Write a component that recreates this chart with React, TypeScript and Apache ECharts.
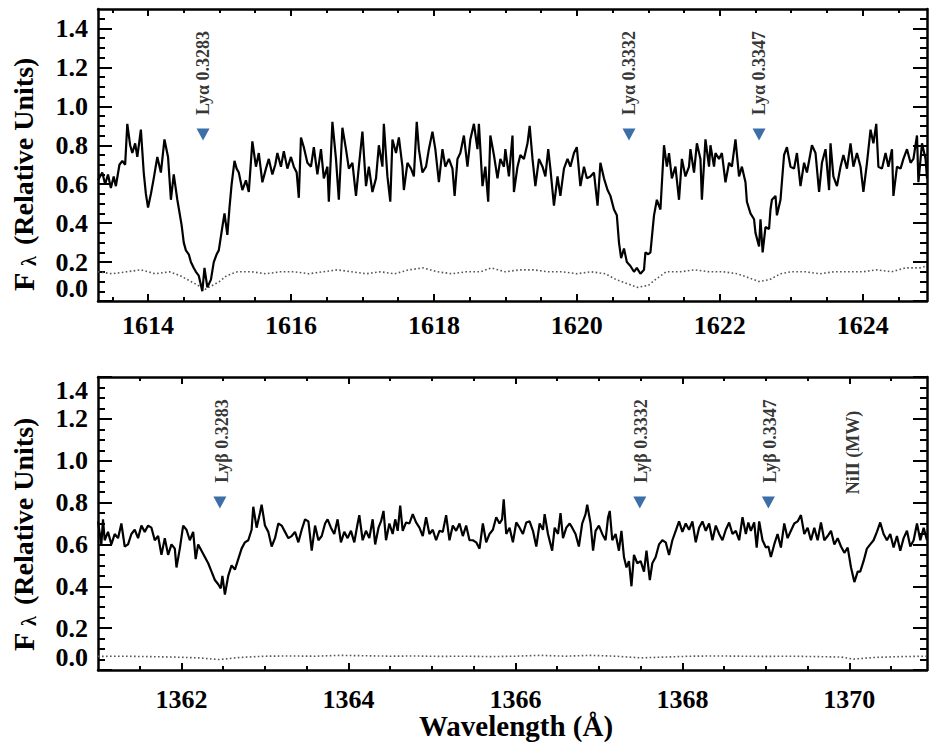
import React, { useEffect, useRef } from 'react';
import * as echarts from 'echarts';

// ---------- Top panel (Lyα) ----------
const topWave = [
  1613.30, 1613.36, 1613.40, 1613.44, 1613.48, 1613.52, 1613.55, 1613.60, 1613.64, 1613.68,
  1613.71, 1613.75, 1613.78, 1613.82, 1613.85, 1613.90, 1613.94, 1613.97, 1614.00, 1614.04,
  1614.08, 1614.13, 1614.18, 1614.23, 1614.28, 1614.32, 1614.36, 1614.41, 1614.47, 1614.50,
  1614.53, 1614.57, 1614.60, 1614.64, 1614.67, 1614.71, 1614.76, 1614.79, 1614.83, 1614.88,
  1614.92, 1614.96, 1614.99, 1615.04, 1615.07, 1615.11, 1615.14, 1615.17, 1615.21, 1615.24,
  1615.27, 1615.32, 1615.37, 1615.41, 1615.46, 1615.51, 1615.55, 1615.60, 1615.65, 1615.69,
  1615.74, 1615.78, 1615.81, 1615.86, 1615.90, 1615.95, 1616.00, 1616.04, 1616.08, 1616.11,
  1616.14, 1616.18, 1616.23, 1616.28, 1616.32, 1616.37, 1616.42, 1616.46, 1616.51, 1616.53,
  1616.58, 1616.63, 1616.67, 1616.72, 1616.77, 1616.81, 1616.86, 1616.91, 1616.95, 1617.00,
  1617.05, 1617.09, 1617.14, 1617.19, 1617.23, 1617.28, 1617.30, 1617.35, 1617.39, 1617.42,
  1617.47, 1617.51, 1617.56, 1617.58, 1617.63, 1617.68, 1617.72, 1617.76, 1617.79, 1617.84,
  1617.89, 1617.93, 1617.98, 1618.02, 1618.07, 1618.12, 1618.16, 1618.21, 1618.26, 1618.29,
  1618.33, 1618.37, 1618.42, 1618.47, 1618.51, 1618.56, 1618.61, 1618.63, 1618.68, 1618.72,
  1618.76, 1618.79, 1618.84, 1618.89, 1618.93, 1618.98, 1619.00, 1619.05, 1619.10, 1619.12,
  1619.17, 1619.21, 1619.26, 1619.31, 1619.34, 1619.38, 1619.42, 1619.47, 1619.52, 1619.56,
  1619.60, 1619.63, 1619.68, 1619.73, 1619.77, 1619.82, 1619.87, 1619.91, 1619.96, 1620.00,
  1620.05, 1620.10, 1620.14, 1620.19, 1620.24, 1620.29, 1620.33, 1620.38, 1620.43, 1620.47,
  1620.52, 1620.56, 1620.59, 1620.62, 1620.66, 1620.70, 1620.75, 1620.80, 1620.84, 1620.89,
  1620.94, 1620.96, 1621.00, 1621.03, 1621.08, 1621.12, 1621.17, 1621.22, 1621.26, 1621.29,
  1621.33, 1621.38, 1621.43, 1621.47, 1621.52, 1621.57, 1621.59, 1621.64, 1621.68, 1621.73,
  1621.75, 1621.80, 1621.85, 1621.87, 1621.92, 1621.94, 1621.99, 1622.03, 1622.08, 1622.13,
  1622.17, 1622.22, 1622.27, 1622.31, 1622.36, 1622.38, 1622.43, 1622.48, 1622.50, 1622.55,
  1622.57, 1622.60, 1622.64, 1622.69, 1622.71, 1622.73, 1622.78, 1622.80, 1622.85, 1622.90,
  1622.94, 1622.99, 1623.04, 1623.08, 1623.13, 1623.18, 1623.22, 1623.29, 1623.34, 1623.39,
  1623.43, 1623.48, 1623.53, 1623.55, 1623.59, 1623.64, 1623.69, 1623.73, 1623.78, 1623.83,
  1623.87, 1623.92, 1623.97, 1624.01, 1624.06, 1624.11, 1624.15, 1624.19, 1624.22, 1624.27,
  1624.32, 1624.36, 1624.41, 1624.43, 1624.48, 1624.53, 1624.57, 1624.62, 1624.67, 1624.71,
  1624.76, 1624.78, 1624.83, 1624.88, 1624.90,
];
const topFlux = [
  0.62, 0.66, 0.60, 0.65, 0.58, 0.64, 0.59, 0.70, 0.72, 0.70,
  0.91, 0.80, 0.76, 0.81, 0.74, 0.88, 0.66, 0.55, 0.48, 0.55,
  0.63, 0.74, 0.66, 0.83, 0.74, 0.52, 0.65, 0.52, 0.39, 0.30,
  0.26, 0.24, 0.20, 0.17, 0.15, 0.13, 0.05, 0.17, 0.07, 0.11,
  0.20, 0.24, 0.26, 0.38, 0.45, 0.34, 0.48, 0.60, 0.72, 0.68,
  0.66, 0.57, 0.62, 0.56, 0.82, 0.69, 0.76, 0.61, 0.68, 0.73,
  0.65, 0.70, 0.76, 0.69, 0.77, 0.68, 0.74, 0.69, 0.66, 0.53,
  0.84, 0.79, 0.71, 0.69, 0.79, 0.65, 0.78, 0.63, 0.69, 0.51,
  0.92, 0.73, 0.52, 0.89, 0.78, 0.68, 0.71, 0.54, 0.69, 0.87,
  0.59, 0.69, 0.56, 0.63, 0.80, 0.69, 0.91, 0.64, 0.51, 0.83,
  0.76, 0.84, 0.69, 0.57, 0.71, 0.68, 0.64, 0.92, 0.78, 0.66,
  0.69, 0.78, 0.87, 0.78, 0.61, 0.78, 0.69, 0.73, 0.68, 0.54,
  0.73, 0.76, 0.85, 0.69, 0.83, 0.91, 0.78, 0.91, 0.59, 0.69,
  0.51, 0.85, 0.75, 0.63, 0.73, 0.69, 0.78, 0.64, 0.85, 0.56,
  0.69, 0.75, 0.73, 0.81, 0.90, 0.73, 0.59, 0.73, 0.69, 0.64,
  0.78, 0.68, 0.49, 0.64, 0.54, 0.68, 0.73, 0.69, 0.76, 0.79,
  0.59, 0.69, 0.63, 0.64, 0.66, 0.49, 0.71, 0.63, 0.57, 0.54,
  0.47, 0.44, 0.30, 0.22, 0.27, 0.20, 0.18, 0.15, 0.17, 0.14,
  0.16, 0.25, 0.24, 0.25, 0.44, 0.52, 0.47, 0.80, 0.69, 0.76,
  0.63, 0.69, 0.52, 0.73, 0.64, 0.69, 0.78, 0.66, 0.81, 0.73,
  0.52, 0.83, 0.69, 0.80, 0.69, 0.76, 0.73, 0.76, 0.61, 0.71,
  0.69, 0.83, 0.64, 0.69, 0.61, 0.51, 0.45, 0.42, 0.35, 0.28,
  0.42, 0.25, 0.38, 0.37, 0.47, 0.52, 0.54, 0.44, 0.52, 0.75,
  0.79, 0.69, 0.68, 0.76, 0.59, 0.71, 0.66, 0.80, 0.76, 0.56,
  0.71, 0.78, 0.57, 0.81, 0.64, 0.59, 0.69, 0.75, 0.68, 0.81,
  0.69, 0.76, 0.69, 0.56, 0.71, 0.88, 0.81, 0.91, 0.69, 0.68,
  0.76, 0.69, 0.78, 0.54, 0.69, 0.68, 0.73, 0.78, 0.71, 0.73,
  0.85, 0.61, 0.81, 0.73, 0.63,
];
const topErrWave = [
  1613.3, 1613.5, 1613.7, 1613.9, 1614.1, 1614.3, 1614.45, 1614.6, 1614.7, 1614.8,
  1614.9, 1615.0, 1615.1, 1615.25, 1615.45, 1615.65, 1615.85, 1616.05, 1616.25, 1616.45,
  1616.65, 1616.85, 1617.05, 1617.25, 1617.45, 1617.65, 1617.85, 1618.05, 1618.25, 1618.45,
  1618.65, 1618.8, 1619.0, 1619.2, 1619.4, 1619.6, 1619.8, 1620.0, 1620.2, 1620.4,
  1620.55, 1620.7, 1620.85, 1621.0, 1621.1, 1621.25, 1621.45, 1621.65, 1621.85, 1622.05,
  1622.25, 1622.4, 1622.55, 1622.7, 1622.85, 1623.0, 1623.2, 1623.4, 1623.6, 1623.8,
  1624.0, 1624.2, 1624.4, 1624.6, 1624.8, 1624.9,
];
const topErr = [
  0.15, 0.14, 0.15, 0.16, 0.14, 0.15, 0.13, 0.10, 0.08, 0.06,
  0.08, 0.10, 0.13, 0.15, 0.15, 0.14, 0.15, 0.15, 0.14, 0.15,
  0.16, 0.15, 0.14, 0.15, 0.14, 0.16, 0.17, 0.15, 0.14, 0.15,
  0.15, 0.17, 0.15, 0.16, 0.16, 0.15, 0.15, 0.14, 0.15, 0.14,
  0.11, 0.09, 0.07, 0.08, 0.11, 0.15, 0.15, 0.16, 0.15, 0.15,
  0.14, 0.12, 0.10, 0.11, 0.14, 0.15, 0.15, 0.14, 0.15, 0.15,
  0.15, 0.16, 0.15, 0.17, 0.17, 0.18,
];

// ---------- Bottom panel (Lyβ) ----------
const botWave = [
  1361.00, 1361.04, 1361.06, 1361.08, 1361.12, 1361.16, 1361.20, 1361.24, 1361.28, 1361.32,
  1361.36, 1361.40, 1361.44, 1361.48, 1361.52, 1361.56, 1361.60, 1361.64, 1361.68, 1361.72,
  1361.76, 1361.80, 1361.84, 1361.88, 1361.92, 1361.94, 1361.98, 1362.02, 1362.06, 1362.10,
  1362.14, 1362.17, 1362.20, 1362.24, 1362.28, 1362.32, 1362.36, 1362.40, 1362.44, 1362.47,
  1362.49, 1362.52, 1362.56, 1362.60, 1362.64, 1362.68, 1362.72, 1362.76, 1362.80, 1362.84,
  1362.86, 1362.90, 1362.94, 1362.96, 1363.00, 1363.04, 1363.08, 1363.12, 1363.16, 1363.20,
  1363.24, 1363.28, 1363.32, 1363.36, 1363.40, 1363.44, 1363.48, 1363.52, 1363.56, 1363.60,
  1363.64, 1363.68, 1363.72, 1363.75, 1363.79, 1363.83, 1363.87, 1363.91, 1363.95, 1363.99,
  1364.03, 1364.07, 1364.11, 1364.13, 1364.17, 1364.21, 1364.25, 1364.29, 1364.32, 1364.36,
  1364.39, 1364.42, 1364.45, 1364.49, 1364.53, 1364.56, 1364.59, 1364.62, 1364.65, 1364.69,
  1364.73, 1364.77, 1364.81, 1364.85, 1364.89, 1364.93, 1364.97, 1365.01, 1365.05, 1365.09,
  1365.13, 1365.17, 1365.21, 1365.25, 1365.29, 1365.33, 1365.37, 1365.41, 1365.45, 1365.49,
  1365.53, 1365.57, 1365.61, 1365.65, 1365.69, 1365.73, 1365.77, 1365.81, 1365.84, 1365.86,
  1365.89, 1365.93, 1365.97, 1366.01, 1366.05, 1366.09, 1366.13, 1366.17, 1366.21, 1366.25,
  1366.29, 1366.33, 1366.35, 1366.39, 1366.44, 1366.47, 1366.51, 1366.54, 1366.57, 1366.61,
  1366.65, 1366.68, 1366.72, 1366.76, 1366.80, 1366.84, 1366.86, 1366.90, 1366.93, 1366.96,
  1367.00, 1367.04, 1367.08, 1367.11, 1367.13, 1367.16, 1367.20, 1367.24, 1367.27, 1367.30,
  1367.33, 1367.36, 1367.39, 1367.42, 1367.46, 1367.50, 1367.54, 1367.57, 1367.61, 1367.64,
  1367.68, 1367.72, 1367.76, 1367.80, 1367.84, 1367.88, 1367.92, 1367.96, 1368.00, 1368.04,
  1368.08, 1368.12, 1368.16, 1368.20, 1368.24, 1368.28, 1368.32, 1368.36, 1368.40, 1368.44,
  1368.48, 1368.52, 1368.56, 1368.60, 1368.64, 1368.68, 1368.72, 1368.76, 1368.79, 1368.82,
  1368.86, 1368.89, 1368.92, 1368.96, 1369.00, 1369.03, 1369.06, 1369.10, 1369.14, 1369.18,
  1369.22, 1369.26, 1369.30, 1369.34, 1369.38, 1369.42, 1369.46, 1369.50, 1369.54, 1369.58,
  1369.62, 1369.66, 1369.70, 1369.74, 1369.78, 1369.82, 1369.86, 1369.90, 1369.94, 1369.98,
  1370.02, 1370.06, 1370.10, 1370.13, 1370.17, 1370.21, 1370.25, 1370.29, 1370.33, 1370.37,
  1370.41, 1370.45, 1370.49, 1370.53, 1370.57, 1370.61, 1370.65, 1370.69, 1370.73, 1370.77,
  1370.81, 1370.85, 1370.89, 1370.93,
];
const botFlux = [
  0.71, 0.60, 0.72, 0.62, 0.66, 0.60, 0.65, 0.63, 0.70, 0.59,
  0.60, 0.65, 0.67, 0.63, 0.69, 0.66, 0.69, 0.68, 0.62, 0.64,
  0.55, 0.63, 0.55, 0.60, 0.58, 0.49, 0.58, 0.69, 0.67, 0.62,
  0.66, 0.53, 0.60, 0.57, 0.54, 0.51, 0.47, 0.43, 0.41, 0.39,
  0.45, 0.36, 0.45, 0.50, 0.48, 0.53, 0.58, 0.61, 0.62, 0.67,
  0.78, 0.68, 0.75, 0.79, 0.69, 0.66, 0.59, 0.63, 0.70, 0.69,
  0.66, 0.63, 0.64, 0.66, 0.61, 0.67, 0.72, 0.71, 0.57, 0.69,
  0.62, 0.64, 0.70, 0.72, 0.68, 0.65, 0.72, 0.61, 0.66, 0.63,
  0.665, 0.61, 0.70, 0.74, 0.62, 0.665, 0.63, 0.72, 0.60, 0.68,
  0.71, 0.76, 0.62, 0.70, 0.65, 0.72, 0.665, 0.785, 0.665, 0.705,
  0.70, 0.745, 0.705, 0.68, 0.64, 0.73, 0.65, 0.67, 0.62, 0.665,
  0.66, 0.74, 0.62, 0.69, 0.665, 0.70, 0.64, 0.69, 0.62, 0.62,
  0.61, 0.58, 0.70, 0.61, 0.65, 0.67, 0.73, 0.70, 0.72, 0.815,
  0.65, 0.68, 0.61, 0.705, 0.68, 0.65, 0.705, 0.71, 0.665, 0.59,
  0.70, 0.67, 0.745, 0.65, 0.57, 0.68, 0.65, 0.75, 0.63, 0.68,
  0.70, 0.68, 0.65, 0.59, 0.70, 0.745, 0.79, 0.70, 0.57, 0.665,
  0.69, 0.65, 0.62, 0.73, 0.76, 0.62, 0.65, 0.57, 0.665, 0.54,
  0.49, 0.52, 0.40, 0.55, 0.51, 0.52, 0.47, 0.57, 0.43, 0.51,
  0.54, 0.60, 0.62, 0.61, 0.55, 0.62, 0.665, 0.71, 0.66, 0.70,
  0.67, 0.71, 0.61, 0.68, 0.71, 0.665, 0.70, 0.62, 0.69, 0.65,
  0.62, 0.67, 0.705, 0.65, 0.665, 0.62, 0.73, 0.65, 0.705, 0.665,
  0.705, 0.585, 0.71, 0.62, 0.585, 0.59, 0.54, 0.60, 0.65, 0.585,
  0.70, 0.63, 0.665, 0.70, 0.71, 0.74, 0.65, 0.68, 0.62, 0.68,
  0.62, 0.705, 0.62, 0.64, 0.665, 0.60, 0.63, 0.59, 0.56, 0.585,
  0.49, 0.42, 0.47, 0.47, 0.52, 0.58, 0.60, 0.62, 0.66, 0.705,
  0.65, 0.62, 0.65, 0.585, 0.64, 0.57, 0.63, 0.665, 0.59, 0.62,
  0.70, 0.62, 0.68, 0.62,
];
const botErrWave = [
  1361.0, 1361.3, 1361.6, 1361.9, 1362.2, 1362.45, 1362.7, 1363.0, 1363.3, 1363.6,
  1363.9, 1364.2, 1364.5, 1364.8, 1365.1, 1365.4, 1365.7, 1366.0, 1366.3, 1366.6,
  1366.9, 1367.2, 1367.5, 1367.8, 1368.1, 1368.4, 1368.7, 1369.0, 1369.3, 1369.6,
  1369.9, 1370.05, 1370.3, 1370.6, 1370.93,
];
const botErr = [
  0.065, 0.066, 0.064, 0.062, 0.058, 0.050, 0.060, 0.066, 0.067, 0.066,
  0.070, 0.068, 0.066, 0.067, 0.065, 0.066, 0.064, 0.066, 0.070, 0.066,
  0.070, 0.066, 0.058, 0.062, 0.066, 0.067, 0.066, 0.065, 0.066, 0.064,
  0.062, 0.052, 0.060, 0.064, 0.066,
];

// ---------- Line identifications ----------
const topMarkWave = [1614.77, 1620.73, 1622.55];
const topMarkNames = ['Lyα 0.3283', 'Lyα 0.3332', 'Lyα 0.3347'];
const topMarkTri = [0.855, 0.855, 0.855];
const topMarkText = [0.955, 0.955, 0.955];
const botMarkWave = [1362.46, 1367.49, 1369.03];
const botMarkTri = [0.80, 0.80, 0.80];
const botNoteWave = [1362.48, 1367.51, 1369.05, 1370.04];
const botNoteNames = ['Lyβ 0.3283', 'Lyβ 0.3332', 'Lyβ 0.3347', 'NiII (MW)'];
const botNoteText = [0.895, 0.895, 0.895, 0.84];

// ---------- Axes ----------
const topXRange = [1613.3, 1624.9];
const botXRange = [1361.0, 1370.93];
const topYRange = [0, 1.5];
const botYRange = [0, 1.4];
const topXMajor = [1614, 1616, 1618, 1620, 1622, 1624];
const topXMinor = [1613.5, 1614.5, 1615, 1615.5, 1616.5, 1617, 1617.5, 1618.5, 1619, 1619.5, 1620.5, 1621, 1621.5, 1622.5, 1623, 1623.5, 1624.5];
const botXMajor = [1362, 1364, 1366, 1368, 1370];
const botXMinor = [1361.5, 1362.5, 1363, 1363.5, 1364.5, 1365, 1365.5, 1366.5, 1367, 1367.5, 1368.5, 1369, 1369.5, 1370.5];
const yMajor = [0, 0.2, 0.4, 0.6, 0.8, 1.0, 1.2, 1.4];
const topYMinor = [0.05, 0.1, 0.15, 0.25, 0.3, 0.35, 0.45, 0.5, 0.55, 0.65, 0.7, 0.75, 0.85, 0.9, 0.95, 1.05, 1.1, 1.15, 1.25, 1.3, 1.35, 1.45];
const botYMinor = [0.05, 0.1, 0.15, 0.25, 0.3, 0.35, 0.45, 0.5, 0.55, 0.65, 0.7, 0.75, 0.85, 0.9, 0.95, 1.05, 1.1, 1.15, 1.25, 1.3, 1.35];

const FONT = 'Liberation Serif, Times New Roman, serif';
const MARK_COLOR = '#0b4a92';

const pairs = (w: number[], f: number[]) => w.map((x, i) => [x, f[i]]);

function makeX(grid: number, range: number[], major: number[], minor: number[], labelMargin: number) {
  const base: any = {
    type: 'value', gridIndex: grid, min: range[0], max: range[1],
    splitLine: { show: false }, minorTick: { show: false },
    axisLine: { show: true, onZero: false, lineStyle: { color: '#000', width: 2.5 } },
  };
  const tick = (vals: number[], len: number) => ({
    show: true, inside: true, length: len, customValues: vals, lineStyle: { color: '#000', width: 2 },
  });
  return [
    {
      ...base, position: 'bottom', axisTick: tick(major, 7),
      axisLabel: {
        show: true, customValues: major, margin: labelMargin, fontFamily: FONT, fontWeight: 'bold',
        fontSize: 26, color: '#000', formatter: (v: number) => String(Math.round(v)),
      },
    },
    { ...base, position: 'top', axisTick: tick(major, 7), axisLabel: { show: false } },
    { ...base, position: 'bottom', axisLine: { show: false, onZero: false }, axisTick: tick(minor, 4), axisLabel: { show: false } },
    { ...base, position: 'top', axisLine: { show: false, onZero: false }, axisTick: tick(minor, 4), axisLabel: { show: false } },
  ];
}

function makeY(grid: number, range: number[], minor: number[], topAligned: boolean) {
  const base: any = {
    type: 'value', gridIndex: grid, min: range[0], max: range[1],
    splitLine: { show: false }, minorTick: { show: false },
    axisLine: { show: true, onZero: false, lineStyle: { color: '#000', width: 2.5 } },
  };
  const tick = (vals: number[], len: number) => ({
    show: true, inside: true, length: len, customValues: vals, lineStyle: { color: '#000', width: 2 },
  });
  const label: any = {
    show: true, customValues: yMajor, margin: 10, fontFamily: FONT, fontWeight: 'bold',
    fontSize: 26, color: '#000', formatter: (v: number) => v.toFixed(1),
    verticalAlignMinLabel: 'bottom',
  };
  if (topAligned) label.verticalAlignMaxLabel = 'top';
  return [
    { ...base, position: 'left', axisTick: tick(yMajor, 14), axisLabel: label },
    { ...base, position: 'right', axisTick: tick(yMajor, 14), axisLabel: { show: false } },
    { ...base, position: 'left', axisLine: { show: false, onZero: false }, axisTick: tick(minor, 7), axisLabel: { show: false } },
    { ...base, position: 'right', axisLine: { show: false, onZero: false }, axisTick: tick(minor, 7), axisLabel: { show: false } },
  ];
}

function noteSeries(xi: number, yi: number, waves: number[], names: string[], levels: number[]) {
  return {
    type: 'scatter', xAxisIndex: xi, yAxisIndex: yi, symbolSize: 1, silent: true,
    itemStyle: { color: 'rgba(0,0,0,0)' }, z: 5,
    data: waves.map((w, i) => ({ name: names[i], value: [w, levels[i]] })),
    label: {
      show: true, formatter: '{b}', position: 'inside', rotate: 90, align: 'left', verticalAlign: 'middle',
      fontFamily: FONT, fontWeight: 'bold', fontSize: 18, color: '#000',
    },
  };
}

function triSeries(xi: number, yi: number, waves: number[], levels: number[]) {
  return {
    type: 'scatter', xAxisIndex: xi, yAxisIndex: yi, symbol: 'triangle', symbolRotate: 180,
    symbolSize: [13, 12], silent: true, itemStyle: { color: MARK_COLOR }, z: 5,
    data: waves.map((w, i) => [w, levels[i]]),
  };
}

function yName(yOffset: number) {
  const font = (s: number) => `bold ${s}px ${FONT}`;
  return [
    { type: 'text', x: 23, y: 291 + yOffset, rotation: Math.PI / 2,
      style: { text: 'F', font: font(30), fill: '#000', align: 'left', verticalAlign: 'middle', textAlign: 'left', textVerticalAlign: 'middle' } },
    { type: 'text', x: 29, y: 266 + yOffset, rotation: Math.PI / 2,
      style: { text: 'λ', font: font(20), fill: '#000', align: 'left', verticalAlign: 'middle', textAlign: 'left', textVerticalAlign: 'middle' } },
    { type: 'text', x: 23, y: 245 + yOffset, rotation: Math.PI / 2,
      style: { text: '(Relative Units)', font: font(28), fill: '#000', align: 'left', verticalAlign: 'middle', textAlign: 'left', textVerticalAlign: 'middle' } },
  ];
}

export default function App() {
  const ref = useRef<HTMLDivElement>(null);
  useEffect(() => {
    document.body.style.margin = '0';
    const chart = echarts.init(ref.current!, null, { renderer: 'svg' });
    const option: any = {
      animation: false,
      backgroundColor: '#fff',
      grid: [
        { left: 98, top: 9, width: 829, height: 292, outerBoundsMode: 'none' },
        { left: 98, top: 377, width: 829, height: 293, outerBoundsMode: 'none' },
      ],
      xAxis: [
        ...makeX(0, topXRange, topXMajor, topXMinor, 11),
        ...makeX(1, botXRange, botXMajor, botXMinor, 16),
      ],
      yAxis: [
        ...makeY(0, topYRange, topYMinor, false),
        ...makeY(1, botYRange, botYMinor, true),
      ],
      series: [
        { type: 'line', xAxisIndex: 0, yAxisIndex: 0, data: pairs(topErrWave, topErr), symbol: 'none',
          lineStyle: { color: '#555', width: 1.6, type: [1.6, 2.4] }, z: 2 },
        { type: 'line', xAxisIndex: 0, yAxisIndex: 0, data: pairs(topWave, topFlux), symbol: 'none',
          lineStyle: { color: '#000', width: 2.2 }, z: 3 },
        { type: 'line', xAxisIndex: 4, yAxisIndex: 4, data: pairs(botErrWave, botErr), symbol: 'none',
          lineStyle: { color: '#555', width: 1.6, type: [1.6, 2.4] }, z: 2 },
        { type: 'line', xAxisIndex: 4, yAxisIndex: 4, data: pairs(botWave, botFlux), symbol: 'none',
          lineStyle: { color: '#000', width: 2.2 }, z: 3 },
        triSeries(0, 0, topMarkWave, topMarkTri),
        noteSeries(0, 0, topMarkWave, topMarkNames, topMarkText),
        triSeries(4, 4, botMarkWave, botMarkTri),
        noteSeries(4, 4, botNoteWave, botNoteNames, botNoteText),
      ],
      graphic: [
        ...yName(0),
        ...yName(360),
        { type: 'text', x: 516, y: 726,
          style: { text: 'Wavelength (Å)', font: `bold 29px ${FONT}`, fill: '#000', align: 'center', verticalAlign: 'middle', textAlign: 'center', textVerticalAlign: 'middle' } },
      ],
    };
    chart.setOption(option);
    return () => chart.dispose();
  }, []);
  return <div ref={ref} style={{ position: 'absolute', left: 0, top: 0, width: 930, height: 742, background: '#fff' }} />;
}
